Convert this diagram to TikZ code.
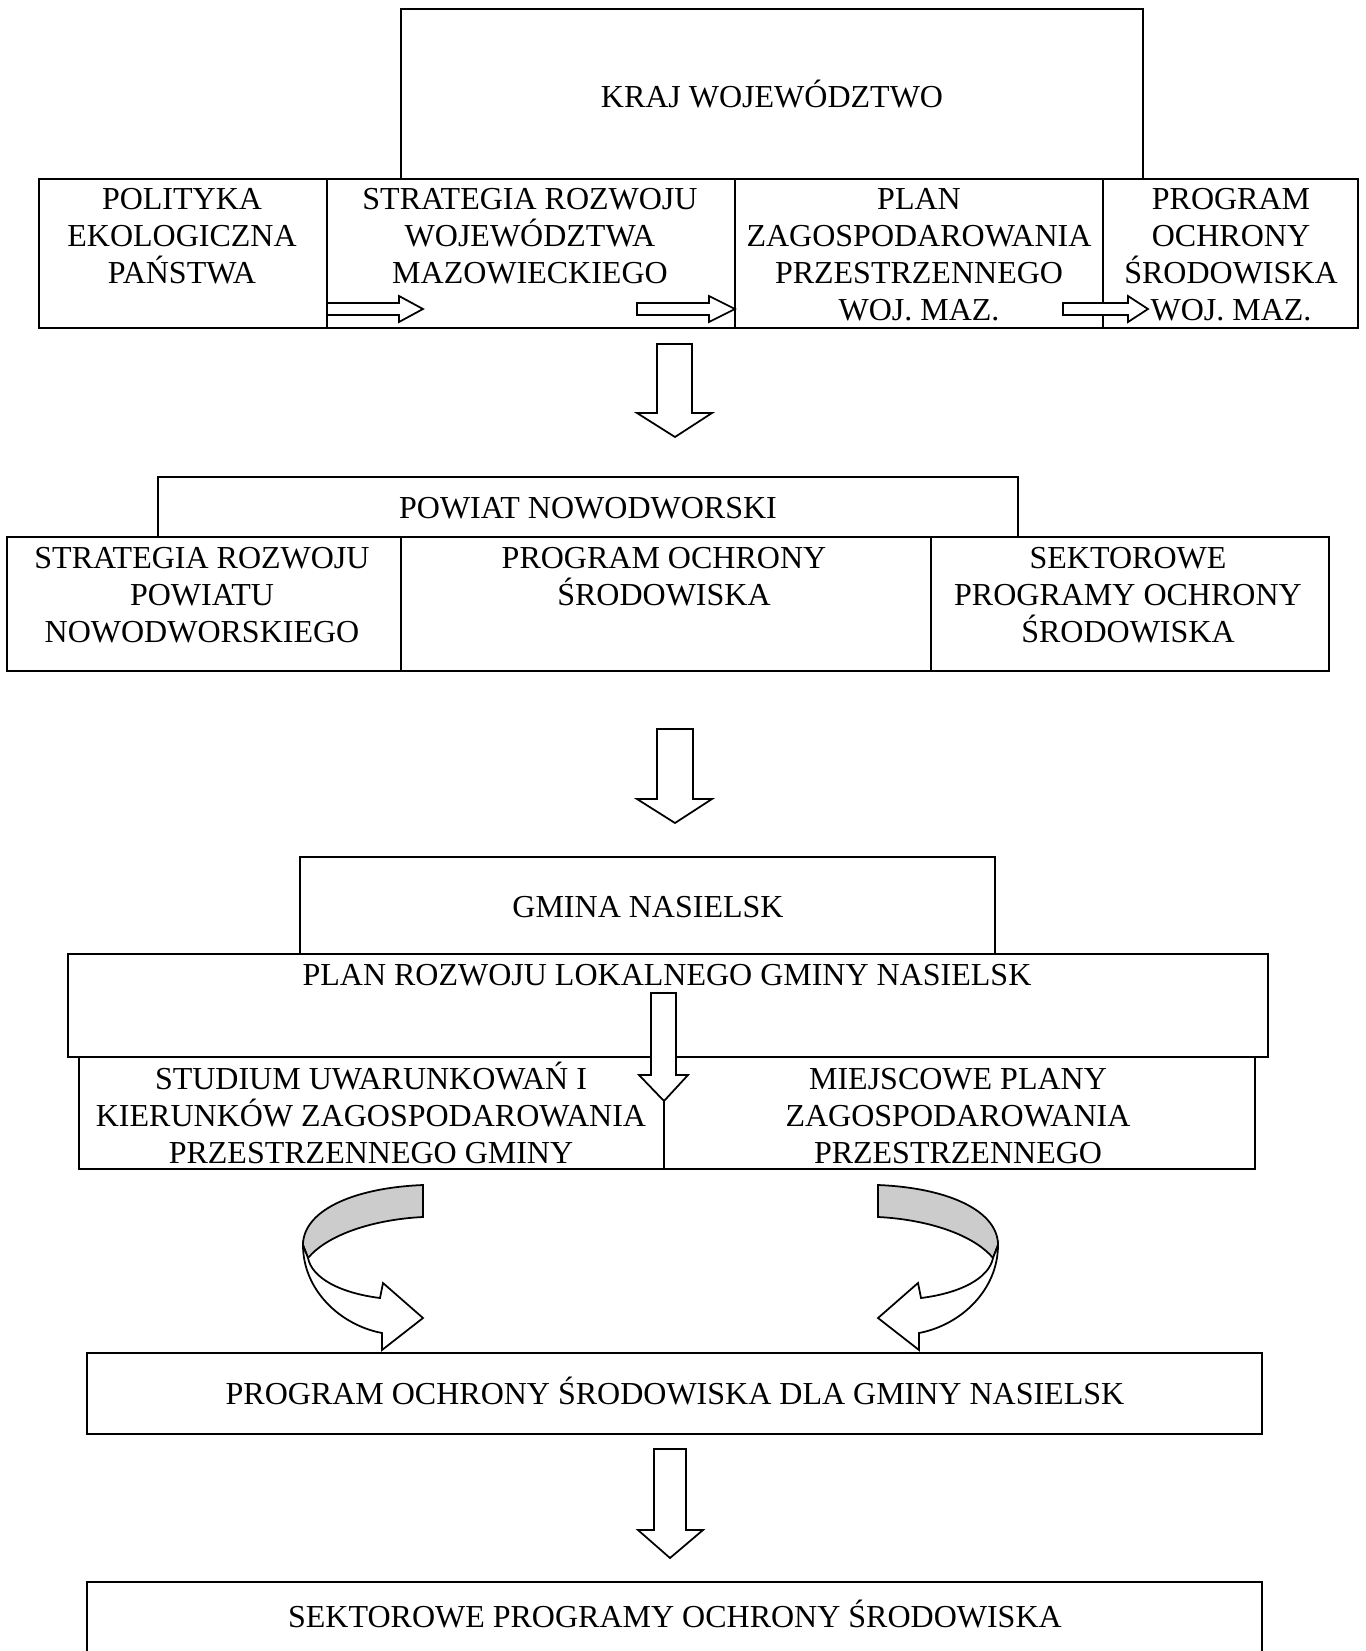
\documentclass[tikz,border=0pt]{standalone}
\usepackage{fontspec}
\setmainfont{Liberation Serif}
\usetikzlibrary{positioning}
\newcommand{\capstrut}{\rule{0pt}{8.8pt}}
\tikzset{
	boxline/.style={line width=0.6pt}
}
\tikzset{
	boxtext/.style={align=center, anchor=north, inner sep=0pt,
			font=\fontsize{9.1}{10.5}\selectfont}
}
\tikzset{
	blockarrow/.style={line width=0.5pt, fill=white, line join=miter}
}
\tikzset{
	turnarrow/.pic={
			\draw[line width=0.5pt, fill=black!20]
			(0,0) .. controls (-73,3) and (-120,27) .. (-120,60) --
			(-115,73) .. controls (-93,47) and (-43,34) .. (0,32) --
			cycle;
			\draw[line width=0.5pt, fill=white, line join=miter]
			(-120,60) .. controls (-120,105) and (-83,140) .. (-41,148) --
			(-41,165) --
			(0,133) --
			(-40,98) --
			(-43,113) .. controls (-83,108) and (-111,93) .. (-115,73) --
			cycle;
		}
}

\begin{document}
\begin{tikzpicture}[x=0.01cm, y=-0.01cm]

			\useasboundingbox (0,0) rectangle (1365,1651);
			\clip (0,0) rectangle (1365,1651);

			\begin{scope}
				\draw[boxline] (401,9) rectangle (1143,179);
				\draw[boxline] (39,179) rectangle (1358,328);
				\draw[boxline] (327,179) -- (327,328);
				\draw[boxline] (735,179) -- (735,328);
				\draw[boxline] (1103,179) -- (1103,328);

				\node[boxtext] (kraj) at (772,76) {\capstrut KRAJ WOJEWÓDZTWO};
				\node[boxtext] (polityka) at (182,178) {\capstrut POLITYKA\\EKOLOGICZNA\\PAŃSTWA};
				\node[boxtext] (strategiaW) at (530,178) {\capstrut STRATEGIA ROZWOJU\\WOJEWÓDZTWA\\MAZOWIECKIEGO};
				\node[boxtext] (planW) at (919,178) {\capstrut PLAN\\ZAGOSPODAROWANIA\\PRZESTRZENNEGO\\WOJ. MAZ.};
				\node[boxtext] (programW) at (1231,178) {\capstrut PROGRAM\\OCHRONY\\ŚRODOWISKA\\WOJ. MAZ.};

				\draw[blockarrow] (327,303) -- (399,303) -- (399,296) -- (423,309) -- (399,322) -- (399,315) -- (327,315) -- cycle;
				\draw[blockarrow] (637,303) -- (709,303) -- (709,296) -- (735,309) -- (709,322) -- (709,315) -- (637,315) -- cycle;
				\draw[blockarrow] (1063,303) -- (1128,303) -- (1128,296) -- (1148,309) -- (1128,322) -- (1128,315) -- (1063,315) -- cycle;
			\end{scope}

			\draw[blockarrow] (657,344) -- (692,344) -- (692,413) -- (712,413) -- (675,437) -- (637,413) -- (657,413) -- cycle;

			\begin{scope}
				\draw[boxline] (158,477) rectangle (1018,537);
				\draw[boxline] (7,537) rectangle (1329,671);
				\draw[boxline] (401,537) -- (401,671);
				\draw[boxline] (931,537) -- (931,671);

				\node[boxtext] (powiat) at (588,487) {\capstrut POWIAT NOWODWORSKI};
				\node[boxtext] (strategiaP) at (202,537) {\capstrut STRATEGIA ROZWOJU\\POWIATU\\NOWODWORSKIEGO};
				\node[boxtext] (programP) at (664,537) {\capstrut PROGRAM OCHRONY\\ŚRODOWISKA};
				\node[boxtext] (sektoroweP) at (1128,537) {\capstrut SEKTOROWE\\PROGRAMY OCHRONY\\ŚRODOWISKA};
			\end{scope}

			\draw[blockarrow] (657,729) -- (693,729) -- (693,799) -- (712,799) -- (675,823) -- (637,799) -- (657,799) -- cycle;

			\begin{scope}
				\draw[boxline] (300,857) rectangle (995,954);
				\draw[boxline] (68,954) rectangle (1268,1057);
				\draw[boxline] (79,1057) rectangle (1255,1169);
				\draw[boxline] (664,1057) -- (664,1169);

				\node[boxtext] (gmina) at (648,886) {\capstrut GMINA NASIELSK};
				\node[boxtext] (planG) at (667,954) {\capstrut PLAN ROZWOJU LOKALNEGO GMINY NASIELSK};
				\node[boxtext] (studium) at (371,1058) {\capstrut STUDIUM UWARUNKOWAŃ I\\KIERUNKÓW ZAGOSPODAROWANIA\\PRZESTRZENNEGO GMINY};
				\node[boxtext] (miejscowe) at (958,1058) {\capstrut MIEJSCOWE PLANY\\ZAGOSPODAROWANIA\\PRZESTRZENNEGO};

				\draw[blockarrow] (651,993) -- (676,993) -- (676,1075) -- (688,1075) -- (664,1101) -- (639,1075) -- (651,1075) -- cycle;
			\end{scope}

			\pic at (423,1185) {turnarrow};
			\pic[xscale=-1] at (878,1185) {turnarrow};

			\begin{scope}
				\draw[boxline] (87,1353) rectangle (1262,1434);
				\draw[boxline] (87,1582) rectangle (1262,1700);

				\node[boxtext] (programG) at (675,1373) {\capstrut PROGRAM OCHRONY ŚRODOWISKA DLA GMINY NASIELSK};
				\node[boxtext] (sektoroweG) at (675,1596) {\capstrut SEKTOROWE PROGRAMY OCHRONY ŚRODOWISKA};
			\end{scope}

			\draw[blockarrow] (654,1449) -- (686,1449) -- (686,1530) -- (703,1530) -- (670,1558) -- (638,1530) -- (654,1530) -- cycle;

		\end{tikzpicture}
\end{document}
